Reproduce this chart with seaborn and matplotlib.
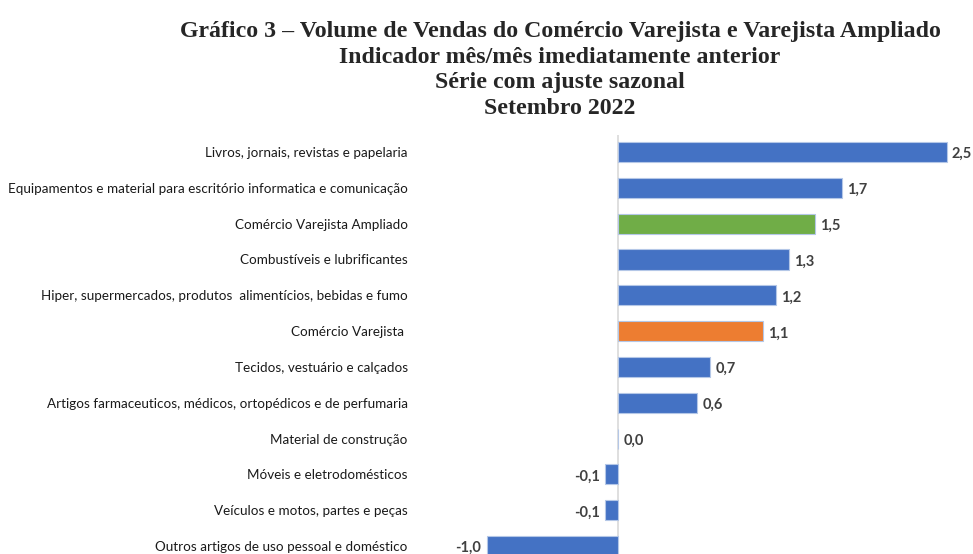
import numpy as np
import pandas as pd
from matplotlib import pyplot as plt
import seaborn as sns

# dados (setembro 2022, mes/mes com ajuste sazonal)
categorias = [
    "Livros, jornais, revistas e papelaria",
    "Equipamentos e material para escritório informatica e comunicação",
    "Comércio Varejista Ampliado",
    "Combustíveis e lubrificantes",
    "Hiper, supermercados, produtos  alimentícios, bebidas e fumo",
    "Comércio Varejista ",
    "Tecidos, vestuário e calçados",
    "Artigos farmaceuticos, médicos, ortopédicos e de perfumaria",
    "Material de construção",
    "Móveis e eletrodomésticos",
    "Veículos e motos, partes e peças",
    "Outros artigos de uso pessoal e doméstico",
]
valores = [2.5, 1.7, 1.5, 1.3, 1.2, 1.1, 0.7, 0.6, 0.0, -0.1, -0.1, -1.0]
cores = ["#4472C4", "#4472C4", "#70AD47", "#4472C4", "#4472C4", "#ED7D31",
         "#4472C4", "#4472C4", "#4472C4", "#4472C4", "#4472C4", "#4472C4"]

df = pd.DataFrame({"cat": categorias, "val": valores})

sns.set_style("white")
plt.rcParams['font.family'] = ['Lato', 'DejaVu Sans']

fig = plt.figure(figsize=(9.73, 5.54), dpi=100)
ax = fig.add_axes([480 / 973, 0, (973 - 480) / 973, (554 - 135) / 554])

sns.barplot(data=df, y="cat", x="val", hue="cat", palette=cores, legend=False,
            orient="h", width=0.56, saturation=1, edgecolor="#b4c7e7",
            linewidth=0.8, ax=ax)

ax.axvline(0, color="#d9d9d9", lw=1.2, zorder=0)
ax.set_xlim(-1.05, 2.70)
ax.set_ylim(11.22, -0.475)

for i, v in enumerate(valores):
    txt = f"{v:.1f}".replace(".", ",")
    if v < 0:
        ax.text(v - 0.04, i + 0.06, txt, ha="right", va="center", fontsize=10.5,
                fontweight="bold", color="#404040", clip_on=False)
    else:
        ax.text(v + 0.04, i + 0.06, txt, ha="left", va="center", fontsize=10.5,
                fontweight="bold", color="#404040", clip_on=False)

ax.set_yticks(range(len(categorias)))
ax.set_yticklabels(categorias, fontsize=9.75, color="#1a1a1a")
ax.tick_params(axis="y", length=0, pad=52)
ax.set_xticks([])
ax.set_xlabel("")
ax.set_ylabel("")
sns.despine(ax=ax, left=True, bottom=True)

fig.text(560 / 973, 1 - 70 / 554,
         "Gráfico 3 – Volume de Vendas do Comércio Varejista e Varejista Ampliado\n"
         "Indicador mês/mês imediatamente anterior\n"
         "Série com ajuste sazonal\n"
         "Setembro 2022",
         ha="center", va="center", fontsize=17.2, fontweight="bold",
         family="Liberation Serif", linespacing=1.3)

fig.savefig("out.png", dpi=100)
